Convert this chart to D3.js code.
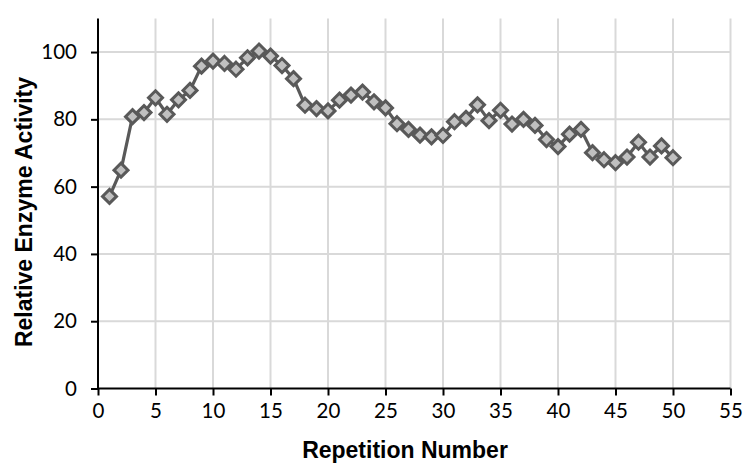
<!DOCTYPE html>
<html>
<head>
<meta charset="utf-8">
<script src="https://cdn.jsdelivr.net/npm/d3@7"></script>
<style>
  html, body { margin: 0; padding: 0; background: #ffffff; }
  svg { display: block; }
</style>
</head>
<body>
<svg id="chart" width="744" height="466"></svg>
<script>
// ---- data ----
const repetitions = [1,2,3,4,5,6,7,8,9,10,11,12,13,14,15,16,17,18,19,20,21,22,23,24,25,26,27,28,29,30,31,32,33,34,35,36,37,38,39,40,41,42,43,44,45,46,47,48,49,50];
const activity = [57.1,64.9,80.8,82.0,86.4,81.5,85.8,88.6,95.8,97.3,96.6,94.9,98.3,100.3,98.8,96.0,92.1,84.2,83.2,82.5,85.7,87.2,88.1,85.2,83.4,78.7,77.0,75.3,74.8,75.2,79.3,80.3,84.3,79.6,82.7,78.6,80.0,78.2,74.0,71.9,75.6,77.0,70.1,68.0,67.1,68.8,73.2,68.8,72.1,68.6];
const xTicks = [0,5,10,15,20,25,30,35,40,45,50,55];
const yTicks = [0,20,40,60,80,100];
const xTitle = "Repetition Number";
const yTitle = "Relative Enzyme Activity";

// ---- layout ----
const plotLeft = 98, plotRight = 730.5, plotTop = 18.4, plotBottom = 388.5;
const svg = d3.select("#chart");

const x = d3.scaleLinear().domain([0, 55]).range([plotLeft, plotRight]);
const y = d3.scaleLinear().domain([0, 110]).range([plotBottom, plotTop]);

// gridlines
const grid = svg.append("g");
grid.selectAll("line.v").data(xTicks.filter(d => d > 0)).join("line")
  .attr("class", "v")
  .attr("x1", d => x(d)).attr("x2", d => x(d))
  .attr("y1", y(0)).attr("y2", y(110))
  .attr("stroke", "#d9d9d9").attr("stroke-width", 2);
grid.selectAll("line.h").data(yTicks.filter(d => d > 0)).join("line")
  .attr("class", "h")
  .attr("x1", x(0)).attr("x2", x(55))
  .attr("y1", d => y(d)).attr("y2", d => y(d))
  .attr("stroke", "#d9d9d9").attr("stroke-width", 2);

// axes
const fontTick = "Lato, 'Open Sans', sans-serif";
const xAxis = svg.append("g").attr("transform", `translate(0,${plotBottom})`)
  .call(d3.axisBottom(x).tickValues(xTicks).tickSize(7).tickPadding(8).tickFormat(d3.format("d")));
const yAxis = svg.append("g").attr("transform", `translate(${plotLeft},0)`)
  .call(d3.axisLeft(y).tickValues(yTicks).tickSize(7).tickPadding(14).tickFormat(d3.format("d")));
[xAxis, yAxis].forEach(a => {
  a.select(".domain").attr("stroke", "#000").attr("stroke-width", 2);
  a.selectAll(".tick line").attr("stroke", "#000").attr("stroke-width", 2);
  a.selectAll(".tick text").attr("fill", "#000")
    .style("font-family", fontTick).style("font-size", "20.5px");
});
xAxis.select(".domain").attr("d", `M${plotLeft},0H${plotRight}`);
yAxis.select(".domain").attr("d", `M0,${plotBottom}V${plotTop}`);

// line
const line = d3.line().x((d, i) => x(repetitions[i])).y(d => y(d));
svg.append("path").datum(activity)
  .attr("d", line)
  .attr("fill", "none")
  .attr("stroke", "#595959")
  .attr("stroke-width", 3.2)
  .attr("stroke-linejoin", "round");

// markers
const diamond = d3.symbol().type(d3.symbolDiamond2).size(125);
svg.append("g").selectAll("path").data(activity).join("path")
  .attr("transform", (d, i) => `translate(${x(repetitions[i])},${y(d)})`)
  .attr("d", diamond)
  .attr("fill", "#c0c0c0")
  .attr("stroke", "#595959")
  .attr("stroke-width", 3)
  .attr("stroke-linejoin", "miter");

// titles
svg.append("text")
  .attr("x", 405).attr("y", 458)
  .attr("text-anchor", "middle")
  .style("font-family", "'Liberation Sans', Arial, sans-serif")
  .style("font-weight", "bold").style("font-size", "23px")
  .text(xTitle);
svg.append("text")
  .attr("transform", `translate(31.5,212) rotate(-90)`)
  .attr("text-anchor", "middle")
  .style("font-family", "'Liberation Sans', Arial, sans-serif")
  .style("font-weight", "bold").style("font-size", "23px")
  .text(yTitle);
</script>
</body>
</html>
